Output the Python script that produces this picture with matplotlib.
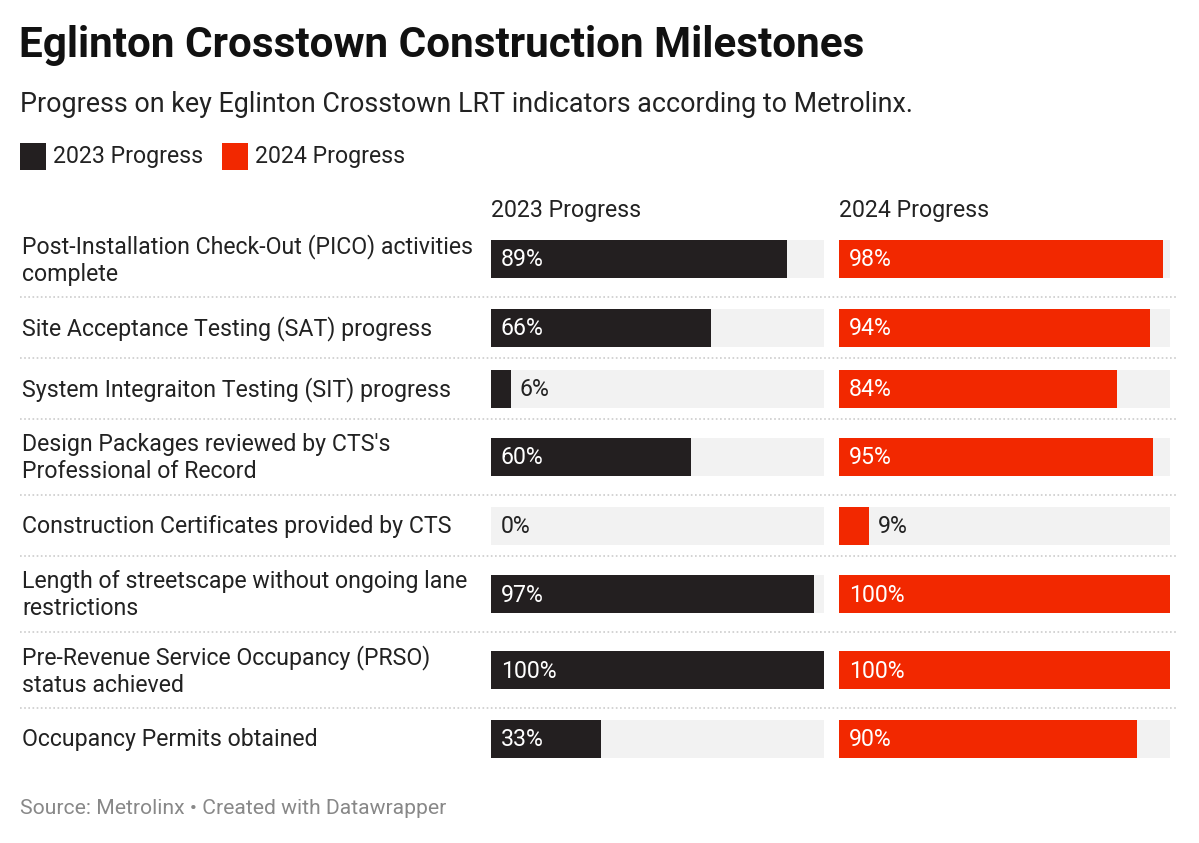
import matplotlib.pyplot as plt
from matplotlib.patches import Rectangle

plt.rcParams['font.family'] = ['Roboto', 'DejaVu Sans']

# data
labels = [
    "Post-Installation Check-Out (PICO) activities\ncomplete",
    "Site Acceptance Testing (SAT) progress",
    "System Integraiton Testing (SIT) progress",
    "Design Packages reviewed by CTS's\nProfessional of Record",
    "Construction Certificates provided by CTS",
    "Length of streetscape without ongoing lane\nrestrictions",
    "Pre-Revenue Service Occupancy (PRSO)\nstatus achieved",
    "Occupancy Permits obtained",
]
progress_2023 = [89, 66, 6, 60, 0, 97, 100, 33]
progress_2024 = [98, 94, 84, 95, 9, 100, 100, 90]
series_names = ["2023 Progress", "2024 Progress"]
colors = ["#231f20", "#f22800"]

W, H = 1199, 843
fig = plt.figure(figsize=(W / 100, H / 100), dpi=100)
ax = fig.add_axes([0, 0, 1, 1])
ax.set_xlim(0, W)
ax.set_ylim(H, 0)
ax.axis('off')

fs = 16.7

# title / subtitle
ax.text(19, 45, "Eglinton Crosstown Construction Milestones", fontsize=30.4,
        fontweight='bold', color='#111111', va='center')
ax.text(20, 105, "Progress on key Eglinton Crosstown LRT indicators according to Metrolinx.",
        fontsize=19.4, color='#222222', va='center')

# legend
lx = [20, 222]
for x0, name, c in zip(lx, series_names, colors):
    ax.add_patch(Rectangle((x0, 143), 26, 27, color=c, lw=0))
    ax.text(x0 + 33, 156, name, fontsize=fs, color='#222222', va='center')

# columns
col_x = [491, 839]
col_w = [333, 331]
bar_h = 38
for cx, name in zip(col_x, series_names):
    ax.text(cx, 210, name, fontsize=fs, color='#222222', va='center')

# row layout
top = 221
y = top
centers = []
bounds = []
for lab in labels:
    h = 76 if "\n" in lab else 61
    centers.append(y + h / 2)
    y += h
    bounds.append(y)

for i, lab in enumerate(labels):
    ax.text(22, centers[i] + 1, lab, fontsize=fs, color='#222222', va='center',
            linespacing=1.2)

for k, vals in enumerate([progress_2023, progress_2024]):
    cx, cw = col_x[k], col_w[k]
    ax.barh(centers, [cw] * len(vals), left=cx, height=bar_h, color='#f2f2f2', lw=0)
    widths = [v / 100 * cw for v in vals]
    ax.barh(centers, widths, left=cx, height=bar_h, color=colors[k], lw=0)
    for yc, v, w in zip(centers, vals, widths):
        yt = yc + 1
        if w > 60:
            ax.text(cx + 10, yt, f"{v}%", fontsize=fs, color='white', va='center')
        elif v == 0:
            ax.text(cx + 10, yt, f"{v}%", fontsize=fs, color='#222222', va='center')
        else:
            ax.text(cx + w + 9, yt, f"{v}%", fontsize=fs, color='#222222', va='center')

# dotted separators
for b in bounds[:-1]:
    ax.plot([20, 1178], [b, b], color='#cccccc', lw=1.2, ls=(0, (1, 1.5)))

ax.text(20, 808, "Source: Metrolinx \u2022 Created with Datawrapper", fontsize=15.2,
        color='#888888', va='center')

fig.savefig("out.png", dpi=100, facecolor='white')
